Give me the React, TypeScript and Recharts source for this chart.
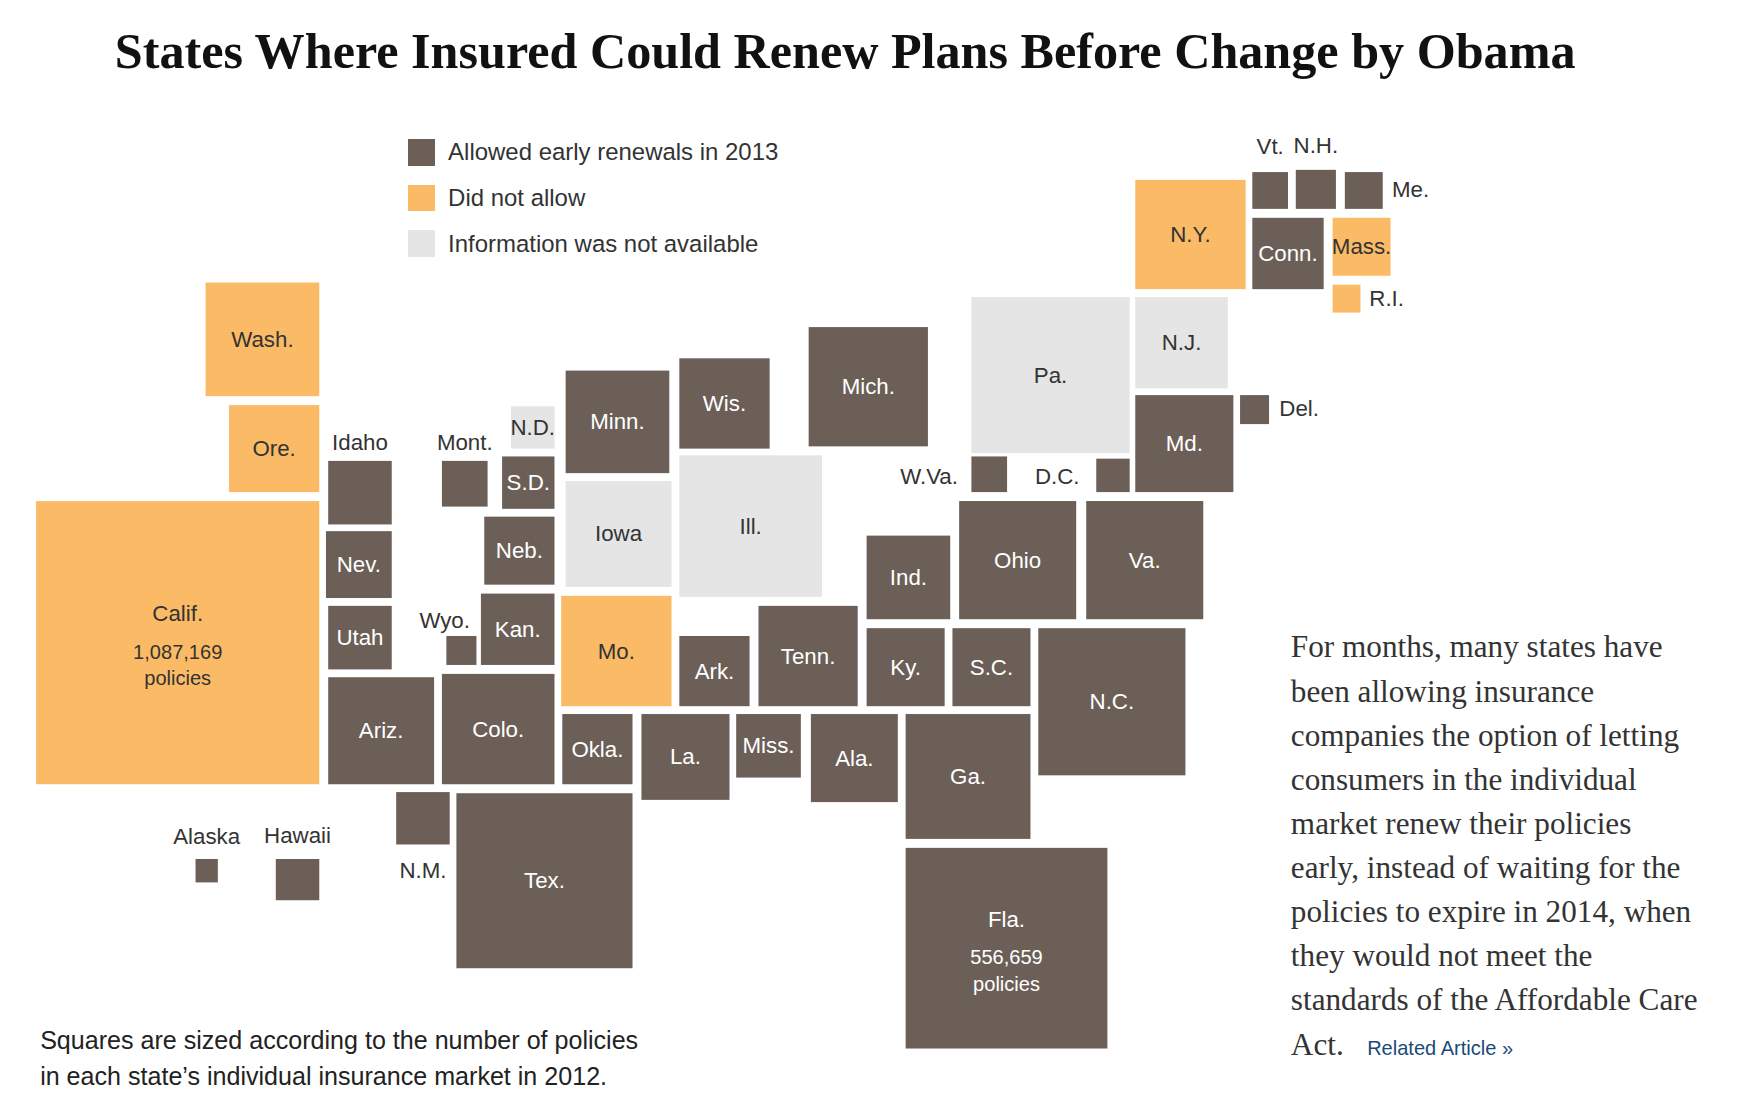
import React from 'react';
import { ScatterChart, Scatter, XAxis, YAxis } from 'recharts';

const W = 1739;
const H = 1114;
const VW = 1560;
const VH = 999;
const K = W / VW;

const BROWN = '#6c5f58';
const ORANGE = '#fbbb66';
const GRAY = '#e5e5e5';

// [label, x0, y0, x1, y1, status]  status: 1 allowed, 0 not allowed, 2 n/a
const westStates: [string, number, number, number, number, number][] = [
  ['Wash.', 188, 256, 290, 358, 0],
  ['Ore.', 209, 366, 290, 444, 0],
  ['Calif.', 36, 452, 290, 706, 0],
  ['Idaho', 298, 416, 355, 473, 1],
  ['Nev.', 296, 479, 355, 539, 1],
  ['Utah', 298, 546, 355, 603, 1],
  ['Ariz.', 298, 610, 393, 706, 1],
  ['Mont.', 400, 416, 441, 457, 1],
  ['N.D.', 462, 367, 501, 405, 2],
  ['S.D.', 454, 412, 501, 459, 1],
  ['Neb.', 438, 466, 501, 527, 1],
  ['Kan.', 435, 535, 501, 599, 1],
  ['Wyo.', 404, 573, 431, 599, 1],
  ['Colo.', 400, 607, 501, 706, 1],
  ['N.M.', 359, 713, 407, 760, 1],
  ['Tex.', 413, 714, 571, 871, 1],
  ['Okla.', 508, 643, 571, 706, 1],
  ['Alaska', 179, 773, 199, 794, 1],
  ['Hawaii', 251, 773, 290, 810, 1],
];

const centralStates: [string, number, number, number, number, number][] = [
  ['Minn.', 511, 335, 604, 427, 1],
  ['Iowa', 511, 434, 606, 529, 2],
  ['Mo.', 507, 537, 606, 636, 0],
  ['Wis.', 613, 324, 694, 405, 1],
  ['Ill.', 613, 411, 741, 538, 2],
  ['Ark.', 613, 573, 676, 636, 1],
  ['La.', 579, 643, 658, 720, 1],
  ['Miss.', 664, 643, 722, 700, 1],
  ['Mich.', 729, 296, 836, 403, 1],
  ['Tenn.', 684, 546, 773, 636, 1],
  ['Ind.', 781, 483, 856, 558, 1],
  ['Ky.', 781, 566, 851, 636, 1],
  ['Ala.', 731, 643, 809, 722, 1],
];

const eastStates: [string, number, number, number, number, number][] = [
  ['Ohio', 864, 452, 969, 558, 1],
  ['S.C.', 858, 566, 928, 636, 1],
  ['Ga.', 816, 643, 928, 755, 1],
  ['Fla.', 816, 763, 997, 943, 1],
  ['N.C.', 935, 566, 1067, 698, 1],
  ['Va.', 978, 452, 1083, 558, 1],
  ['W.Va.', 875, 412, 907, 444, 1],
  ['D.C.', 987, 414, 1017, 444, 1],
  ['Pa.', 875, 269, 1017, 409, 2],
  ['N.J.', 1022, 269, 1105, 351, 2],
  ['Md.', 1022, 357, 1110, 444, 1],
  ['Del.', 1116, 357, 1142, 383, 1],
  ['N.Y.', 1022, 164, 1121, 262, 0],
  ['Conn.', 1127, 198, 1191, 262, 1],
  ['Mass.', 1199, 198, 1251, 250, 0],
  ['R.I.', 1199, 258, 1224, 283, 0],
  ['Vt.', 1127, 157, 1159, 190, 1],
  ['N.H.', 1166, 155, 1202, 190, 1],
  ['Me.', 1210, 157, 1244, 190, 1],
];

const policyNotes: Record<string, string> = {
  'Calif.': '1,087,169',
  'Fla.': '556,659',
};

// labels drawn outside their square: [dx, dy] from square centre (view units)
const outsideLabels: Record<string, [number, number]> = {
  Idaho: [0, -45],
  'Mont.': [0, -37],
  'Wyo.': [-15, -27],
  'N.M.': [0, 47],
  Alaska: [0, -31],
  Hawaii: [0, -40],
  'W.Va.': [-54, 2],
  'D.C.': [-50, 1],
  'Del.': [40, -1],
  'R.I.': [36, 0],
  'Vt.': [0, -39],
  'N.H.': [0, -39],
  'Me.': [42, -1],
};

const legendItems: [string, string][] = [
  [BROWN, 'Allowed early renewals in 2013'],
  [ORANGE, 'Did not allow'],
  [GRAY, 'Information was not available'],
];

const fillOf = (s: number) => (s === 1 ? BROWN : s === 0 ? ORANGE : GRAY);

const toPoints = (rows: [string, number, number, number, number, number][]) =>
  rows.map(([name, x0, y0, x1, y1, status]) => ({
    name,
    x: (x0 + x1) / 2,
    y: (y0 + y1) / 2,
    w: x1 - x0,
    h: y1 - y0,
    status,
  }));

const sans = 'Arial, "Liberation Sans", Helvetica, sans-serif';
const serif = '"Liberation Serif", "Times New Roman", serif';

function StateSquare(props: any) {
  const { cx, cy, payload } = props;
  const w = payload.w * K;
  const h = payload.h * K;
  const out = outsideLabels[payload.name];
  const fs = 20 * K;
  const insideColor = payload.status === 1 ? '#fff' : '#333';
  const note = policyNotes[payload.name];
  return (
    <g>
      <rect x={cx - w / 2} y={cy - h / 2} width={w} height={h} fill={fillOf(payload.status)} />
      {out ? (
        <text x={cx + out[0] * K} y={cy + out[1] * K} textAnchor="middle" dominantBaseline="central" fontFamily={sans} fontSize={fs} fill="#333">
          {payload.name}
        </text>
      ) : note ? (
        <g fontFamily={sans} textAnchor="middle" fill={insideColor}>
          <text x={cx} y={cy - 26 * K} dominantBaseline="central" fontSize={fs}>{payload.name}</text>
          <text x={cx} y={cy + 8 * K} dominantBaseline="central" fontSize={18 * K}>{note}</text>
          <text x={cx} y={cy + 32 * K} dominantBaseline="central" fontSize={18 * K}>policies</text>
        </g>
      ) : (
        <text x={cx} y={cy} textAnchor="middle" dominantBaseline="central" fontFamily={sans} fontSize={fs} fill={insideColor}>
          {payload.name}
        </text>
      )}
    </g>
  );
}

const paragraph = [
  'For months, many states have',
  'been allowing insurance',
  'companies the option of letting',
  'consumers in the individual',
  'market renew their policies',
  'early, instead of waiting for the',
  'policies to expire in 2014, when',
  'they would not meet the',
  'standards of the Affordable Care',
];

export default function App() {
  return (
    <div style={{ position: 'fixed', left: 0, top: 0, width: W, height: H, background: '#fff', overflow: 'hidden' }}>
      <div style={{ position: 'absolute', left: 103 * K, top: 20 * K, fontFamily: serif, fontSize: 45 * K, fontWeight: 'bold', color: '#111', whiteSpace: 'nowrap' }}>
        States Where Insured Could Renew Plans Before Change by Obama
      </div>
      {legendItems.map(([c, t], i) => (
        <div key={t} style={{ position: 'absolute', left: 366 * K, top: (124 + i * 41) * K, display: 'flex', alignItems: 'center', fontFamily: sans, fontSize: 21.5 * K, color: '#333' }}>
          <span style={{ display: 'inline-block', width: 24 * K, height: 24 * K, background: c, marginRight: 12 * K }} />
          {t}
        </div>
      ))}
      <div style={{ position: 'absolute', left: 36 * K, top: 918 * K, fontFamily: sans, fontSize: 22.5 * K, lineHeight: `${32 * K}px`, color: '#222' }}>
        Squares are sized according to the number of policies
        <br />
        in each state’s individual insurance market in 2012.
      </div>
      <div style={{ position: 'absolute', left: 1158 * K, top: 561 * K, fontFamily: serif, fontSize: 28 * K, lineHeight: `${39.6 * K}px`, color: '#333', whiteSpace: 'nowrap' }}>
        {paragraph.map((l) => (
          <div key={l}>{l}</div>
        ))}
        <div>
          Act.{' '}
          <span style={{ fontFamily: sans, fontSize: 18 * K, color: '#1a4a7a', marginLeft: 14 * K }}>Related Article »</span>
        </div>
      </div>
      <div style={{ position: 'absolute', left: -4 * K, top: -3 * K }}>
        <ScatterChart width={W} height={H} margin={{ top: 0, right: 0, bottom: 0, left: 0 }}>
          <XAxis type="number" dataKey="x" domain={[0, VW]} hide />
          <YAxis type="number" dataKey="y" domain={[0, VH]} reversed hide />
          <Scatter data={toPoints(westStates)} shape={StateSquare} isAnimationActive={false} />
          <Scatter data={toPoints(centralStates)} shape={StateSquare} isAnimationActive={false} />
          <Scatter data={toPoints(eastStates)} shape={StateSquare} isAnimationActive={false} />
        </ScatterChart>
      </div>
    </div>
  );
}
